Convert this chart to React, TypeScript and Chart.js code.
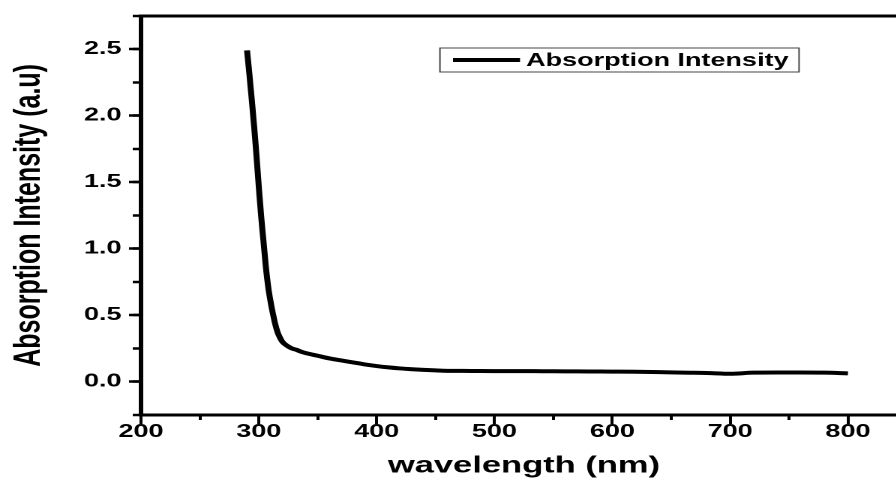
import React, { useEffect, useRef } from "react";
import { Chart, registerables } from "chart.js";

Chart.register(...registerables);

// ---- data ----
const wavelengths = [
  290, 292, 294, 296, 298, 300, 302, 304, 306, 308, 310, 312, 314, 316, 318, 320,
  324, 328, 332, 336, 340, 350, 360, 370, 380, 390, 400, 410, 420, 430, 440, 450,
  460, 480, 500, 520, 540, 560, 580, 600, 620, 640, 660, 680, 700, 720, 740, 760,
  780, 800,
];
const absorbance = [
  2.49, 2.31, 2.12, 1.92, 1.7, 1.46, 1.24, 1.05, 0.86, 0.71, 0.6, 0.51, 0.43, 0.37, 0.33, 0.3,
  0.27, 0.25, 0.24, 0.225, 0.215, 0.195, 0.175, 0.16, 0.145, 0.13, 0.118, 0.108, 0.1, 0.094, 0.089, 0.085,
  0.082, 0.081, 0.08, 0.08, 0.079, 0.078, 0.077, 0.076, 0.075, 0.072, 0.068, 0.066, 0.06, 0.068, 0.069, 0.069,
  0.068, 0.063,
];
const xMajorTicks = [200, 300, 400, 500, 600, 700, 800];
const xMinorTicks = [200, 250, 300, 350, 400, 450, 500, 550, 600, 650, 700, 750, 800, 850];
const yMajorTicks = [0, 0.5, 1, 1.5, 2, 2.5];
const yMinorTicks = [-0.25, 0, 0.25, 0.5, 0.75, 1, 1.25, 1.5, 1.75, 2, 2.25, 2.5, 2.75];
const seriesLabel = "Absorption Intensity";
const xTitle = "wavelength (nm)";
const yTitle = "Absorption Intensity (a.u)";
const xRange = [200, 850];
const yRange = [-0.25, 2.75];

// ---- layout / style ----
const STRETCH = 1.5;
const CANVAS_W = 640;
const CANVAS_H = 491;
const FONT = "'Liberation Sans', Arial, sans-serif";

const boxLegend = {
  id: "boxLegend",
  afterDraw(chart: any, _args: any, opts: any) {
    const ds = chart.data.datasets[0];
    const ctx = chart.ctx;
    const cy = opts.y + opts.h / 2;
    ctx.save();
    ctx.strokeStyle = opts.boxColor;
    ctx.lineWidth = 1;
    ctx.strokeRect(opts.x, opts.y, opts.w, opts.h);
    ctx.strokeStyle = ds.borderColor;
    ctx.lineWidth = ds.borderWidth;
    ctx.beginPath();
    ctx.moveTo(opts.x + opts.lineStart, cy);
    ctx.lineTo(opts.x + opts.lineEnd, cy);
    ctx.stroke();
    ctx.fillStyle = "#000";
    ctx.font = `bold ${opts.fontSize}px ${FONT}`;
    ctx.textBaseline = "middle";
    ctx.textAlign = "left";
    ctx.fillText(ds.label, opts.x + opts.textStart, cy + 1);
    ctx.restore();
  },
};

const setTicks = (list: number[]) => (axis: any) => {
  axis.ticks = list.map((v) => ({ value: v }));
};

export default function App() {
  const ref = useRef<HTMLCanvasElement | null>(null);

  useEffect(() => {
    if (!ref.current) return;
    Chart.defaults.font.family = FONT;
    const chart = new Chart(ref.current, {
      type: "line",
      data: {
        datasets: [
          {
            label: seriesLabel,
            data: wavelengths.map((w, i) => ({ x: w, y: absorbance[i] })),
            borderColor: "#000",
            backgroundColor: "#000",
            borderWidth: 4,
            pointRadius: 0,
            fill: false,
            cubicInterpolationMode: "monotone",
            xAxisID: "x",
            yAxisID: "y",
          },
        ],
      },
      options: {
        animation: false,
        responsive: false,
        devicePixelRatio: 2,
        layout: { padding: { left: 0, right: 35.4, top: 15, bottom: 0 } },
        plugins: {
          legend: { display: false },
          tooltip: { enabled: false },
          boxLegend: {
            x: 293.3,
            y: 48,
            w: 239.4,
            h: 24,
            lineStart: 8.7,
            lineEnd: 53.4,
            textStart: 57.4,
            fontSize: 18,
            boxColor: "#444",
          },
        } as any,
        scales: {
          x: {
            type: "linear",
            position: "bottom",
            min: xRange[0],
            max: xRange[1],
            weight: 1,
            afterBuildTicks: setTicks(xMajorTicks),
            afterFit: (a: any) => {
              a.height = 76;
            },
            grid: { display: true, drawOnChartArea: false, drawTicks: true, tickLength: 9, tickWidth: 2, tickColor: "#000" },
            border: { display: true, color: "#000", width: 3 },
            ticks: {
              color: "#000",
              font: { size: 18, weight: "bold", lineHeight: 1 },
              padding: -1,
              maxRotation: 0,
              autoSkip: false,
              callback: (v: any) => String(v),
            },
            title: {
              display: true,
              text: xTitle,
              color: "#000",
              font: { size: 23, weight: "bold", lineHeight: 1.2 },
              padding: { top: 0, bottom: 11 },
            },
          },
          xMinor: {
            type: "linear",
            position: "bottom",
            min: xRange[0],
            max: xRange[1],
            weight: 0,
            afterBuildTicks: setTicks(xMinorTicks),
            afterFit: (a: any) => {
              a.height = 0;
            },
            grid: { display: true, drawOnChartArea: false, drawTicks: true, tickLength: 5, tickWidth: 2, tickColor: "#000" },
            border: { display: false },
            ticks: { display: false, autoSkip: false },
          },
          xTop: {
            type: "linear",
            position: "top",
            min: xRange[0],
            max: xRange[1],
            afterFit: (a: any) => {
              a.height = 0;
            },
            grid: { display: false },
            border: { display: true, color: "#000", width: 3 },
            ticks: { display: false },
          },
          y: {
            type: "linear",
            position: "left",
            min: yRange[0],
            max: yRange[1],
            weight: 1,
            afterBuildTicks: setTicks(yMajorTicks),
            afterFit: (a: any) => {
              a.width = 94;
            },
            grid: { display: true, drawOnChartArea: false, drawTicks: true, tickLength: 8, tickWidth: 2.5, tickColor: "#000" },
            border: { display: true, color: "#000", width: 3 },
            ticks: {
              color: "#000",
              font: { size: 18, weight: "bold" },
              padding: 5,
              autoSkip: false,
              callback: (v: any) => Number(v).toFixed(1),
            },
            title: {
              display: true,
              text: yTitle,
              color: "#000",
              font: { size: 25, weight: "bold", lineHeight: 1.2 },
              padding: { top: 4.5, bottom: 0 },
            },
          },
          yMinor: {
            type: "linear",
            position: "left",
            min: yRange[0],
            max: yRange[1],
            weight: 0,
            afterBuildTicks: setTicks(yMinorTicks),
            afterFit: (a: any) => {
              a.width = 0;
            },
            grid: { display: true, drawOnChartArea: false, drawTicks: true, tickLength: 5.5, tickWidth: 2.5, tickColor: "#000" },
            border: { display: false },
            ticks: { display: false, autoSkip: false },
          },
        },
      } as any,
      plugins: [boxLegend],
    });
    return () => chart.destroy();
  }, []);

  return (
    <div
      style={{
        position: "fixed",
        left: 0,
        top: 0,
        width: 896,
        height: 491,
        overflow: "hidden",
        background: "#fff",
      }}
    >
      <canvas
        ref={ref}
        width={CANVAS_W}
        height={CANVAS_H}
        style={{ display: "block", transform: `scaleX(${STRETCH})`, transformOrigin: "0 0" }}
      />
    </div>
  );
}
